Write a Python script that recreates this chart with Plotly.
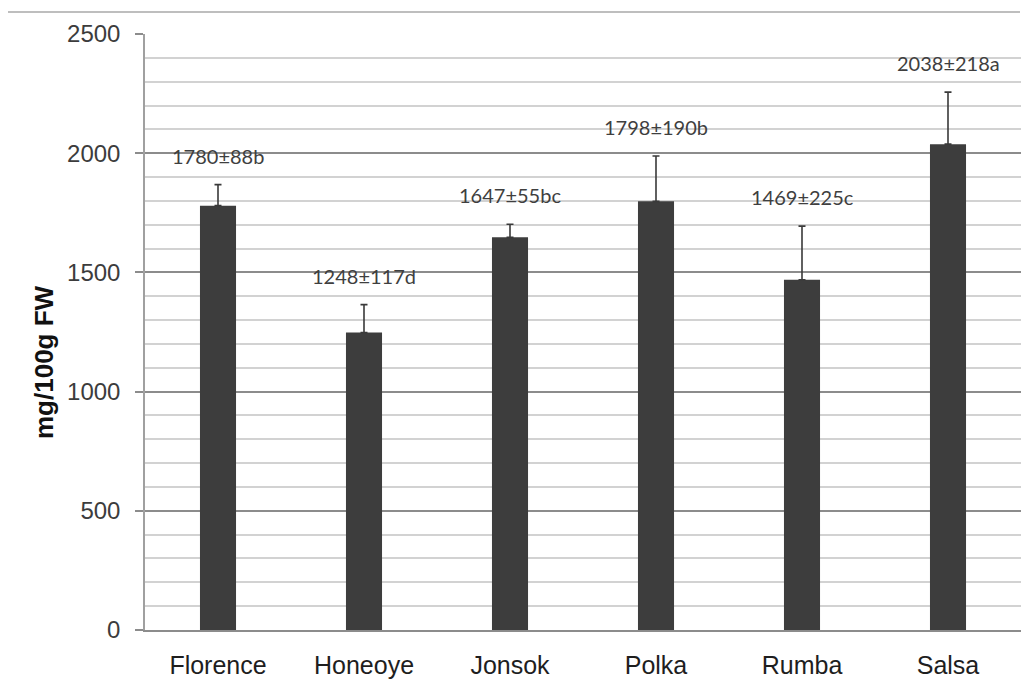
import plotly.graph_objects as go

cultivars = ["Florence", "Honeoye", "Jonsok", "Polka", "Rumba", "Salsa"]
means = [1780, 1248, 1647, 1798, 1469, 2038]
sds = [88, 117, 55, 190, 225, 218]
letters = ["b", "d", "bc", "b", "c", "a"]

# page body has an 8px offset; target plot area in screen px: x 145..1021, y 34..630
OFF = 8
W, H = 1029 - OFF, 688 - OFF
ML, MR, MT, MB = 145 - OFF, 8, 34 - OFF, 58
PW, PH = W - ML - MR, H - MT - MB
BOTTOM = H - MB  # in figure px

fig = go.Figure()
fig.add_trace(go.Bar(
    x=cultivars, y=means, width=0.247,
    marker=dict(color="#3d3d3d", line=dict(width=0)),
    error_y=dict(type="data", symmetric=False, array=sds, arrayminus=[0] * len(sds),
                 color="#3a3a3a", thickness=1.6, width=3.5),
    showlegend=False, hoverinfo="skip",
))

annotations = []
for c, m, s, l in zip(cultivars, means, sds, letters):
    annotations.append(dict(
        x=c, y=m + s, xref="x", yref="y", text=f"{m}±{s}{l}", showarrow=False,
        yanchor="middle", yshift=29,
        font=dict(family="Lato, Open Sans, sans-serif", size=20, color="#3f3f3f"),
    ))

annotations.append(dict(
    x=(44 - OFF - ML) / PW, y=(BOTTOM - (362 - OFF)) / PH, xref="paper", yref="paper",
    text="<b>mg/100g FW</b>", textangle=-90, showarrow=False,
    xanchor="center", yanchor="middle",
    font=dict(family="Liberation Sans, Arial, sans-serif", size=26, color="#111111"),
))

frame_top = (BOTTOM - (12 - OFF)) / PH
frame_left = (7 - OFF - ML) / PW
shapes = [
    dict(type="line", xref="paper", yref="paper", x0=frame_left, x1=(1020 - OFF - ML) / PW,
         y0=frame_top, y1=frame_top, line=dict(color="#a8a8a8", width=1.5)),
    dict(type="line", xref="paper", yref="paper", x0=frame_left, x1=frame_left,
         y0=frame_top, y1=-0.2, line=dict(color="#a8a8a8", width=1.5)),
]

fig.update_layout(
    width=W, height=H,
    margin=dict(l=ML, r=MR, t=MT, b=MB, pad=0),
    plot_bgcolor="white", paper_bgcolor="white",
    annotations=annotations, shapes=shapes,
    xaxis=dict(
        type="category", range=[-0.5, 5.5], showgrid=False,
        showline=True, linecolor="#8c8c8c", linewidth=1.5,
        ticks="", ticklabelstandoff=12,
        tickfont=dict(family="Liberation Sans, Arial, sans-serif", size=25, color="#1e1e1e"),
    ),
    yaxis=dict(
        range=[0, 2500], tickvals=[0, 500, 1000, 1500, 2000, 2500],
        showgrid=True, gridcolor="#8c8c8c", gridwidth=1.5,
        zeroline=False,
        showline=True, linecolor="#a0a0a0", linewidth=1.5,
        ticks="outside", ticklen=8, tickcolor="#8c8c8c", tickwidth=1.5,
        ticklabelstandoff=10,
        tickfont=dict(family="Liberation Sans, Arial, sans-serif", size=24, color="#3c3c3c"),
        minor=dict(dtick=100, tick0=0, showgrid=True, gridcolor="#d2d2d2", gridwidth=1.5, ticks=""),
    ),
)

fig.write_html("out.html")
